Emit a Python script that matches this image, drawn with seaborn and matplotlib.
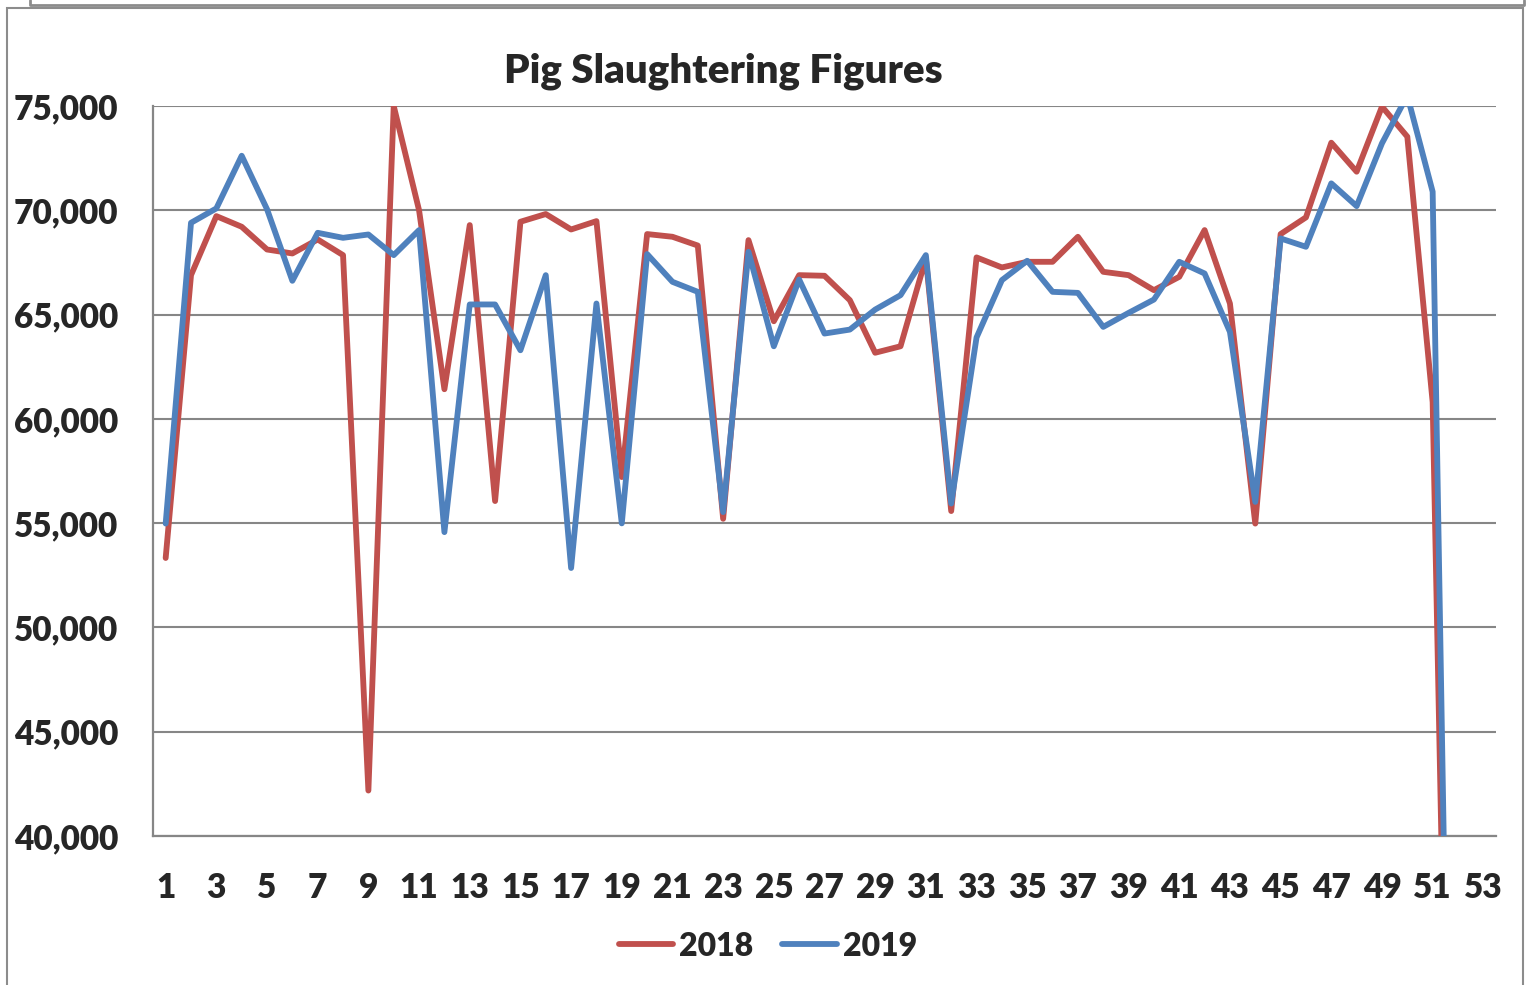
import numpy as np
import pandas as pd
import matplotlib
matplotlib.use('Agg')
import matplotlib.pyplot as plt
import seaborn as sns
from matplotlib.ticker import FuncFormatter, FixedLocator
from matplotlib.patches import Rectangle
from matplotlib.lines import Line2D

# weeks 1..53
weeks = list(range(1, 54))

# 2018 weekly slaughter numbers (week 52 drops to 0)
pigs_2018 = [53330, 66890, 69720, 69210, 68120, 67930, 68600, 67850, 42180, 75000,
             70000, 61420, 69290, 56060, 69450, 69820, 69080, 69480, 57210, 68860,
             68730, 68310, 55210, 68570, 64680, 66890, 66860, 65690, 63170, 63480,
             67700, 55580, 67740, 67260, 67530, 67530, 68730, 67050, 66890, 66170,
             66810, 69050, 65530, 54980, 68860, 69660, 73240, 71850, 74970, 73530,
             60800, 0, np.nan]

# 2019 weekly slaughter numbers
pigs_2019 = [54980, 69400, 70090, 72615, 70050, 66620, 68920, 68680, 68840, 67850,
             69050, 54570, 65485, 65485, 63290, 66890, 52850, 65530, 54990, 67900,
             66570, 66090, 55530, 68010, 63480, 66680, 64090, 64280, 65240, 65930,
             67850, 55940, 63900, 66650, 67580, 66090, 66040, 64410, 65080, 65720,
             67530, 66970, 64170, 56020, 68650, 68250, 71290, 70200, 73210, 75500,
             70890, 0, np.nan]

years = ['2018', '2019']
colors = {'2018': '#C0504D', '2019': '#4F81BD'}

df = pd.DataFrame({
    'week': weeks * 2,
    'pigs': pigs_2018 + pigs_2019,
    'year': ['2018'] * len(weeks) + ['2019'] * len(weeks),
})

sns.set_style('white')
plt.rcParams['font.family'] = ['Lato', 'DejaVu Sans']
plt.rcParams['font.weight'] = 'heavy'

fig = plt.figure(figsize=(15.32, 9.85), dpi=100)
ax = fig.add_axes([153 / 1532, 1 - 836 / 985, (1496 - 153) / 1532, (836 - 106) / 985])

grid_col = '#868686'
lw = 4.2

sns.lineplot(data=df, x='week', y='pigs', hue='year', palette=colors,
             linewidth=lw, ax=ax, legend=False, zorder=3)

ax.set_xlim(0.5, 53.5)
ax.set_ylim(40000, 75000)
ax.set_xlabel('')
ax.set_ylabel('')

# y axis
ax.set_yticks(range(40000, 75001, 5000))
ax.yaxis.set_major_formatter(FuncFormatter(lambda v, p: f'{int(v):,}'))
ax.grid(axis='y', color=grid_col, linewidth=1.5, zorder=1)
ax.grid(axis='x', visible=False)
ax.tick_params(axis='y', which='major', direction='out', length=7, width=1.3,
               color=grid_col, pad=18, labelsize=24)

# x axis: labels on odd weeks, tick marks between categories
ax.xaxis.set_major_locator(FixedLocator(weeks[::2]))
ax.set_xticklabels([str(w) for w in weeks[::2]])
ax.xaxis.set_minor_locator(FixedLocator(np.arange(0.5, 54, 1.0)))
ax.tick_params(axis='x', which='major', length=0, pad=26, labelsize=24)
ax.tick_params(axis='x', which='minor', direction='out', length=7, width=1.3, color=grid_col)

for s in ['top', 'right']:
    ax.spines[s].set_visible(False)
for s in ['left', 'bottom']:
    ax.spines[s].set_color(grid_col)
    ax.spines[s].set_linewidth(1.6)

for lab in ax.get_xticklabels() + ax.get_yticklabels():
    lab.set_fontweight('heavy')

fig.text(723 / 1532, 1 - 71 / 985, 'Pig Slaughtering Figures', ha='center', va='center',
         fontsize=29, fontweight='heavy')

handles = [Line2D([], [], color=colors[y], linewidth=lw) for y in years]
fig.legend(handles, years, loc='center', bbox_to_anchor=(768 / 1532, 1 - 946 / 985),
           ncol=2, frameon=False, handlelength=1.7, handletextpad=0.2,
           columnspacing=0.9, prop={'weight': 'heavy', 'size': 23})

# chart frame
fig.add_artist(Rectangle((7 / 1532, -0.01), (1523 - 7) / 1532, 1.01 - 8 / 985,
                         transform=fig.transFigure, fill=False, edgecolor='#8c8c8c',
                         linewidth=1.5))
fig.add_artist(Line2D([30 / 1532, 30 / 1532, 1524 / 1532, 1524 / 1532],
                      [1.0, 1 - 5 / 985, 1 - 5 / 985, 1.0], transform=fig.transFigure,
                      color='#8c8c8c', linewidth=2))

fig.savefig('out.png', dpi=100)
